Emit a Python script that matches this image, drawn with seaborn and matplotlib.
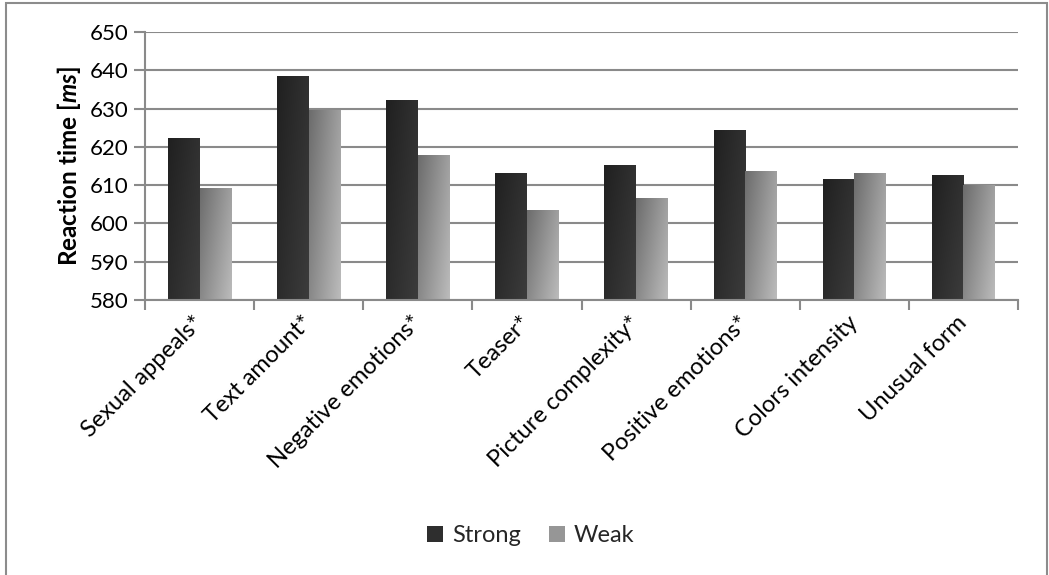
import numpy as np
import pandas as pd
import matplotlib
matplotlib.use("Agg")
import matplotlib.pyplot as plt
import seaborn as sns
from matplotlib.patches import Patch, Rectangle

categories = ["Sexual appeals*", "Text amount*", "Negative emotions*", "Teaser*",
              "Picture complexity*", "Positive emotions*", "Colors intensity", "Unusual form"]
strong = [622.3, 638.5, 632.0, 613.0, 615.2, 624.3, 611.5, 612.6]
weak = [609.0, 629.4, 617.7, 603.3, 606.5, 613.6, 613.1, 610.0]
series_names = ["Strong", "Weak"]
y_ticks = [580, 590, 600, 610, 620, 630, 640, 650]

sns.set_theme(style="white")
plt.rcParams['font.family'] = ['Lato', 'DejaVu Sans']
plt.rcParams['mathtext.fontset'] = 'custom'
plt.rcParams['mathtext.rm'] = 'Lato'
plt.rcParams['mathtext.it'] = 'Lato:italic:bold'
plt.rcParams['mathtext.bf'] = 'Lato:bold'

df = pd.DataFrame({
    "category": categories * 2,
    "value": strong + weak,
    "series": [series_names[0]] * len(categories) + [series_names[1]] * len(categories),
})

YMIN, YMAX = 580, 650

fig = plt.figure(figsize=(10.49, 5.75), dpi=100)
ax = fig.add_axes([145 / 1049, 1 - 300 / 575, (1018 - 145) / 1049, (300 - 32) / 575])

palette = {"Strong": "#2e2e2e", "Weak": "#969696"}
sns.barplot(data=df, x="category", y="value", hue="series", order=categories,
            hue_order=series_names, palette=palette, width=0.58, gap=0,
            saturation=1, ax=ax, legend=False, edgecolor="none", linewidth=0)

ax.set_ylim(YMIN, YMAX)
ax.set_xlim(-0.5, len(categories) - 0.5)

# gradient fills over each bar (restricted to the visible range)
nstrong = len(categories)
yy, xx = np.mgrid[0:1:64j, 0:1:64j]
for i, patch in enumerate(list(ax.patches)):
    x0, y0 = patch.get_x(), patch.get_y()
    w, h = patch.get_width(), patch.get_height()
    top = min(y0 + h, YMAX)
    bot = max(y0, YMIN)
    if i < nstrong:
        grad = 0.6 * xx + 0.4 * yy
        c0, c1 = 0x20 / 255, 0x3c / 255
    else:
        grad = 0.65 * xx + 0.35 * yy
        c0, c1 = 0x6c / 255, 0xbc / 255
    img = c0 + (c1 - c0) * grad
    rgb = np.dstack([img, img, img])
    ax.imshow(rgb, extent=(x0, x0 + w, bot, top), origin="upper",
              aspect="auto", zorder=patch.get_zorder() + 0.1, interpolation="bilinear")
ax.set_xlim(-0.5, len(categories) - 0.5)
ax.set_ylim(YMIN, YMAX)

# grid and axes
ax.set_yticks(y_ticks)
ax.yaxis.grid(True, color="#8a8a8a", linewidth=1.5)
ax.set_axisbelow(True)
for s in ["top", "right"]:
    ax.spines[s].set_visible(False)
for s in ["left", "bottom"]:
    ax.spines[s].set_color("#8a8a8a")
    ax.spines[s].set_linewidth(1.5)
    ax.spines[s].set_zorder(5)

ax.set_xticks(range(len(categories)))
ax.set_xticklabels(categories, rotation=45, ha="right", va="center",
                   rotation_mode="anchor", fontsize=17)
ax.tick_params(axis="x", which="major", length=0, pad=14)
ax.set_xticks(np.arange(-0.5, len(categories), 1.0), minor=True)
ax.tick_params(axis="x", which="minor", length=7, width=1.5, color="#8a8a8a", direction="out", bottom=True)
ax.tick_params(axis="y", length=8, width=1.5, color="#8a8a8a", direction="out", left=True, labelsize=16, pad=4)
for lbl in ax.get_yticklabels() + ax.get_xticklabels():
    lbl.set_color("#000000")

ax.set_xlabel("")
ax.set_ylabel(r"Reaction time [$\mathit{ms}$]", fontsize=17.5, fontweight="bold", color="#000000", labelpad=5)

handles = [Patch(facecolor="#2e2e2e", edgecolor="none"), Patch(facecolor="#969696", edgecolor="none")]
fig.legend(handles, series_names, loc="center", bbox_to_anchor=(531 / 1049, 1 - 536 / 575),
           ncol=2, frameon=False, fontsize=17, handlelength=0.65, handleheight=0.65,
           handletextpad=0.4, columnspacing=1.2)

fig.patches.append(Rectangle((6 / 1049, -0.02), (1047 - 6) / 1049, 1.02 - 3 / 575,
                             transform=fig.transFigure, fill=False, edgecolor="#8c8c8c",
                             linewidth=1.5, zorder=10))

fig.savefig("out.png", dpi=100)
